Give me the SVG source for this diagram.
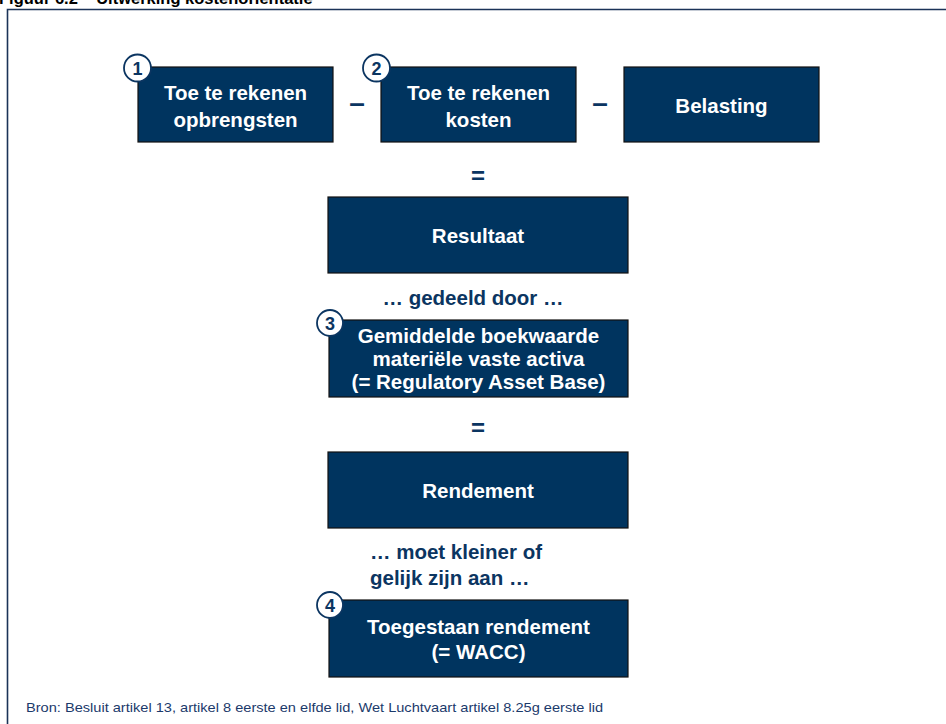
<svg xmlns="http://www.w3.org/2000/svg" width="946" height="724" viewBox="0 0 946 724">
<style>
.box{fill:#00345f;stroke:#111;stroke-width:1.2}
.bt{font-family:"Liberation Sans",Arial,sans-serif;font-weight:bold;font-size:20.5px;fill:#fff;text-anchor:middle}
.lbl{font-family:"Liberation Sans",Arial,sans-serif;font-weight:bold;font-size:20.5px;fill:#0b3561}
.op{font-family:"Liberation Sans",Arial,sans-serif;font-weight:bold;font-size:24px;fill:#0b3561;text-anchor:middle}
.minus{font-family:"Liberation Sans",Arial,sans-serif;font-weight:bold;font-size:28px;fill:#0b3561;text-anchor:middle}
.num{fill:#fff;stroke:#0b3561;stroke-width:1.8}
.nt{font-family:"Liberation Sans",Arial,sans-serif;font-weight:bold;font-size:18px;fill:#0b3561;text-anchor:middle}
.frame{fill:none;stroke:#1b3358;stroke-width:1.6}
</style>
<rect width="946" height="724" fill="#fff"/>
<text x="-1" y="3.5" font-family="Liberation Sans,Arial,sans-serif" font-weight="bold" font-size="16.5" fill="#000">Figuur 6.2 – Uitwerking kostenoriëntatie</text>
<path class="frame" d="M7.5 724 V9.5 H946"/>

<g id="node-opbrengsten">
<rect class="box" x="138" y="67" width="195" height="75"/>
<text class="bt" x="235.5" y="100">Toe te rekenen</text>
<text class="bt" x="235.5" y="127">opbrengsten</text>
<circle class="num" cx="137.5" cy="68" r="13.5"/>
<text class="nt" x="137.5" y="74.5">1</text>
</g>
<g id="node-kosten">
<rect class="box" x="381" y="67" width="195" height="75"/>
<text class="bt" x="478.5" y="100">Toe te rekenen</text>
<text class="bt" x="478.5" y="127">kosten</text>
<circle class="num" cx="376.5" cy="68" r="13.5"/>
<text class="nt" x="376.5" y="74.5">2</text>
</g>
<g id="node-belasting">
<rect class="box" x="624" y="67" width="195" height="75"/>
<text class="bt" x="721.5" y="113">Belasting</text>
</g>
<g id="node-resultaat">
<rect class="box" x="328" y="197" width="300" height="76"/>
<text class="bt" x="478" y="243">Resultaat</text>
</g>
<g id="node-rab">
<rect class="box" x="329" y="320" width="299" height="77"/>
<text class="bt" x="478.5" y="343">Gemiddelde boekwaarde</text>
<text class="bt" x="478.5" y="366">materiële vaste activa</text>
<text class="bt" x="478.5" y="389">(= Regulatory Asset Base)</text>
<circle class="num" cx="330" cy="323" r="13"/>
<text class="nt" x="330" y="329.5">3</text>
</g>
<g id="node-rendement">
<rect class="box" x="328" y="452" width="300" height="76"/>
<text class="bt" x="478" y="498">Rendement</text>
</g>
<g id="node-wacc">
<rect class="box" x="329" y="600" width="299" height="77"/>
<text class="bt" x="478.5" y="634">Toegestaan rendement</text>
<text class="bt" x="478.5" y="659">(= WACC)</text>
<circle class="num" cx="330" cy="605" r="13"/>
<text class="nt" x="330" y="611.5">4</text>
</g>

<g id="connectors">
<text class="minus" x="357" y="112">–</text>
<text class="minus" x="600" y="112">–</text>
<text class="op" x="478" y="184">=</text>
<text class="lbl" x="473" y="305" text-anchor="middle">… gedeeld door …</text>
<text class="op" x="478" y="436">=</text>
<text class="lbl" x="370" y="559">… moet kleiner of</text>
<text class="lbl" x="370" y="585">gelijk zijn aan …</text>
</g>

<text x="26" y="712" font-family="Liberation Sans,Arial,sans-serif" font-size="13.5" fill="#1b3a6b" textLength="577" lengthAdjust="spacingAndGlyphs">Bron: Besluit artikel 13, artikel 8 eerste en elfde lid, Wet Luchtvaart artikel 8.25g eerste lid</text>
</svg>
